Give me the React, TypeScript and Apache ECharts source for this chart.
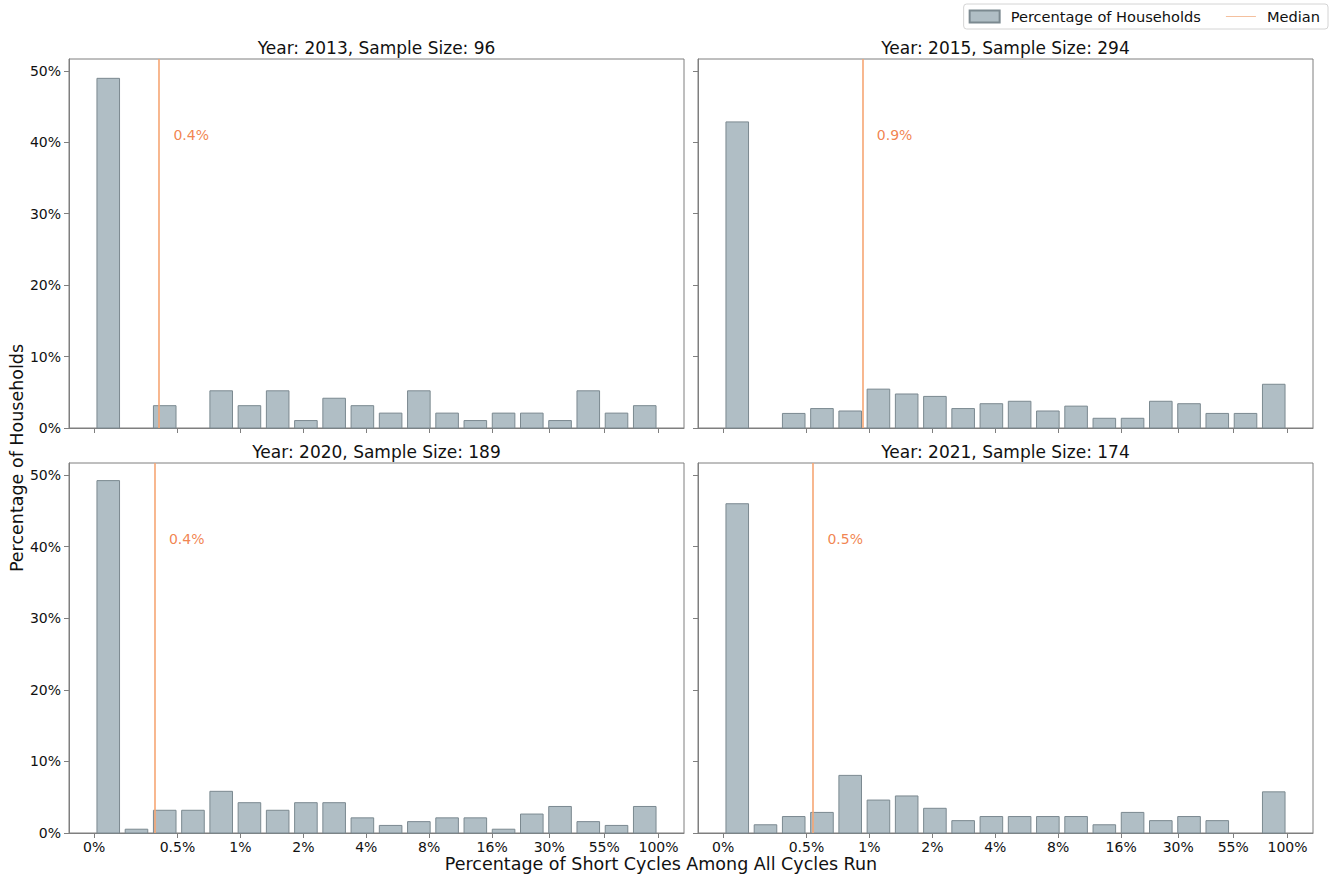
import React, { useEffect, useRef } from "react";
import * as echarts from "echarts";

// ---------- data ----------
const YEARS = [2013, 2015, 2020, 2021];
const SAMPLE_SIZES = [96, 294, 189, 174];
// household counts per short-cycle bin (20 bins, 0% .. 100%)
const COUNTS_2013 = [47, 0, 3, 0, 5, 3, 5, 1, 4, 3, 2, 5, 2, 1, 2, 2, 1, 5, 2, 3];
const COUNTS_2015 = [126, 0, 6, 8, 7, 16, 14, 13, 8, 10, 11, 7, 9, 4, 4, 11, 10, 6, 6, 18];
const COUNTS_2020 = [93, 1, 6, 6, 11, 8, 6, 8, 8, 4, 2, 3, 4, 4, 1, 5, 7, 3, 2, 7];
const COUNTS_2021 = [80, 2, 4, 5, 14, 8, 9, 6, 3, 4, 4, 4, 4, 2, 5, 3, 4, 3, 0, 10];
const COUNTS = [COUNTS_2013, COUNTS_2015, COUNTS_2020, COUNTS_2021];
const MEDIANS = [0.41, 0.93, 0.39, 0.54]; // % of short cycles
const X_TICK_VALUES = [0, 0.5, 1, 2, 4, 8, 16, 30, 55, 100];
const X_TICK_LABELS = ["0%", "0.5%", "1%", "2%", "4%", "8%", "16%", "30%", "55%", "100%"];
const Y_TICKS = [0, 10, 20, 30, 40, 50];

// ---------- scale of the binned x axis (log2 spaced bins, 1 unit per bin) ----------
const ZERO_POS = -0.5;
const ONE_PCT_POS = 4.68;
const BINS_PER_OCTAVE = 2.229;
const xPos = (v: number) => (v <= 0 ? ZERO_POS : ONE_PCT_POS + BINS_PER_OCTAVE * Math.log2(v));

const FONT = "DejaVu Sans";
const BAR_FILL = "#b0bec5";
const BAR_EDGE = "#7b8990";
const SPINE = "#7f7f7f";
const MEDIAN_LINE = "#f6a674";
const MEDIAN_LEGEND = "#f4bc98";
const MEDIAN_TEXT = "#ee6522";
const TEXT = "#111111";

const GRIDS = [
  { left: 69, top: 59, width: 615, height: 369 },
  { left: 698, top: 59, width: 615, height: 369 },
  { left: 69, top: 463, width: 615, height: 370 },
  { left: 698, top: 463, width: 615, height: 370 },
];

export default function App() {
  const ref = useRef<HTMLDivElement>(null);

  useEffect(() => {
    if (!ref.current) return;
    const chart = echarts.init(ref.current, undefined, { renderer: "svg" });

    const pcts = COUNTS.map((c, i) => c.map((n) => (n / SAMPLE_SIZES[i]) * 100));
    const maxPct = Math.max(...pcts.flat());
    const yMax = maxPct * 1.05;
    const xTickPos = X_TICK_VALUES.map(xPos);
    const labelFor = (v: number) => {
      let best = 0;
      xTickPos.forEach((p, k) => {
        if (Math.abs(p - v) < Math.abs(xTickPos[best] - v)) best = k;
      });
      return X_TICK_LABELS[best];
    };

    const xAxes = GRIDS.map((_, i) => ({
      gridIndex: i,
      type: "value",
      min: -1.39,
      max: 20.39,
      axisLine: { show: true, onZero: false, lineStyle: { color: SPINE, width: 1 } },
      axisTick: { show: true, customValues: xTickPos, length: 5, lineStyle: { color: SPINE } },
      axisLabel: {
        show: i >= 2,
        customValues: xTickPos,
        formatter: (v: number) => labelFor(v),
        fontSize: 14,
        fontFamily: FONT,
        color: TEXT,
        margin: 7,
      },
      splitLine: { show: false },
    }));

    const yAxes = GRIDS.map((_, i) => ({
      gridIndex: i,
      type: "value",
      min: 0,
      max: yMax,
      axisLine: { show: true, onZero: false, lineStyle: { color: SPINE, width: 1 } },
      axisTick: { show: true, customValues: Y_TICKS, length: 5, lineStyle: { color: SPINE } },
      axisLabel: {
        show: i % 2 === 0,
        customValues: Y_TICKS,
        formatter: (v: number) => `${v}%`,
        fontSize: 14,
        fontFamily: FONT,
        color: TEXT,
        margin: 8,
      },
      splitLine: { show: false },
    }));

    const series: any[] = [];
    GRIDS.forEach((_, i) => {
      series.push({
        name: "Percentage of Households",
        type: "custom",
        xAxisIndex: i,
        yAxisIndex: i,
        itemStyle: { color: BAR_FILL, borderColor: BAR_EDGE, borderWidth: 1 },
        data: pcts[i].map((v, k) => [k, v]),
        renderItem: (params: any, api: any) => {
          const x = api.value(0);
          const y = api.value(1);
          if (!y) return null;
          const p0 = api.coord([x - 0.4, y]);
          const p1 = api.coord([x + 0.4, 0]);
          return {
            type: "rect",
            shape: { x: p0[0], y: p0[1], width: p1[0] - p0[0], height: p1[1] - p0[1] },
            style: { fill: BAR_FILL, stroke: BAR_EDGE, lineWidth: 1 },
          };
        },
      });
      const m = xPos(MEDIANS[i]);
      series.push({
        name: "Median",
        type: "custom",
        xAxisIndex: i,
        yAxisIndex: i,
        itemStyle: { color: MEDIAN_LINE },
        data: [[m, 0, yMax]],
        z: 5,
        renderItem: (params: any, api: any) => {
          const a = api.coord([api.value(0), api.value(1)]);
          const b = api.coord([api.value(0), api.value(2)]);
          const x = Math.round(a[0]);
          return {
            type: "line",
            shape: { x1: x, y1: a[1], x2: x, y2: b[1] },
            style: { stroke: MEDIAN_LINE, lineWidth: 1.6 },
          };
        },
      });
      series.push({
        name: "median-label",
        type: "scatter",
        xAxisIndex: i,
        yAxisIndex: i,
        symbolSize: 0,
        silent: true,
        data: [[m, 41]],
        label: {
          show: true,
          position: "right",
          distance: 14,
          formatter: () => `${MEDIANS[i].toFixed(1)}%`,
          color: MEDIAN_TEXT,
          fontSize: 14,
          fontFamily: FONT,
        },
      });
    });

    const titles = GRIDS.map((g, i) => ({
      type: "text",
      x: g.left + g.width / 2,
      y: g.top - 11,
      style: {
        text: `Year: ${YEARS[i]}, Sample Size: ${SAMPLE_SIZES[i]}`,
        fill: TEXT,
        font: `17px "${FONT}"`,
        align: "center",
        verticalAlign: "middle",
      },
    }));

    chart.setOption({
      animation: false,
      backgroundColor: "#ffffff",
      grid: GRIDS.map((g) => ({ ...g, show: true, borderColor: SPINE, borderWidth: 1, backgroundColor: "transparent" })),
      xAxis: xAxes,
      yAxis: yAxes,
      series,
      legend: {
        top: 4,
        right: 6,
        data: [
          { name: "Percentage of Households", icon: "rect" },
          { name: "Median", icon: "path://M0,0H32V1H0Z", itemStyle: { color: MEDIAN_LEGEND } },
        ],
        itemWidth: 30,
        itemHeight: 12,
        itemGap: 25,
        selectedMode: false,
        borderColor: "#d4d4d4",
        borderWidth: 1,
        borderRadius: 3,
        padding: [5, 8, 5, 5],
        textStyle: { fontSize: 14.6, fontFamily: FONT, color: TEXT, padding: [0, 0, 0, 6] },
      },
      graphic: [
        ...titles,
        {
          type: "text",
          x: 661,
          y: 864,
          style: {
            text: "Percentage of Short Cycles Among All Cycles Run",
            fill: TEXT,
            font: `17.5px "${FONT}"`,
            align: "center",
            verticalAlign: "middle",
          },
        },
        {
          type: "text",
          x: 17,
          y: 458,
          rotation: Math.PI / 2,
          style: {
            text: "Percentage of Households",
            fill: TEXT,
            font: `17.5px "${FONT}"`,
            align: "center",
            verticalAlign: "middle",
          },
        },
      ],
    });

    return () => chart.dispose();
  }, []);

  return (
    <div
      ref={ref}
      style={{ position: "fixed", left: 0, top: 0, width: 1334, height: 877, background: "#fff" }}
    />
  );
}
